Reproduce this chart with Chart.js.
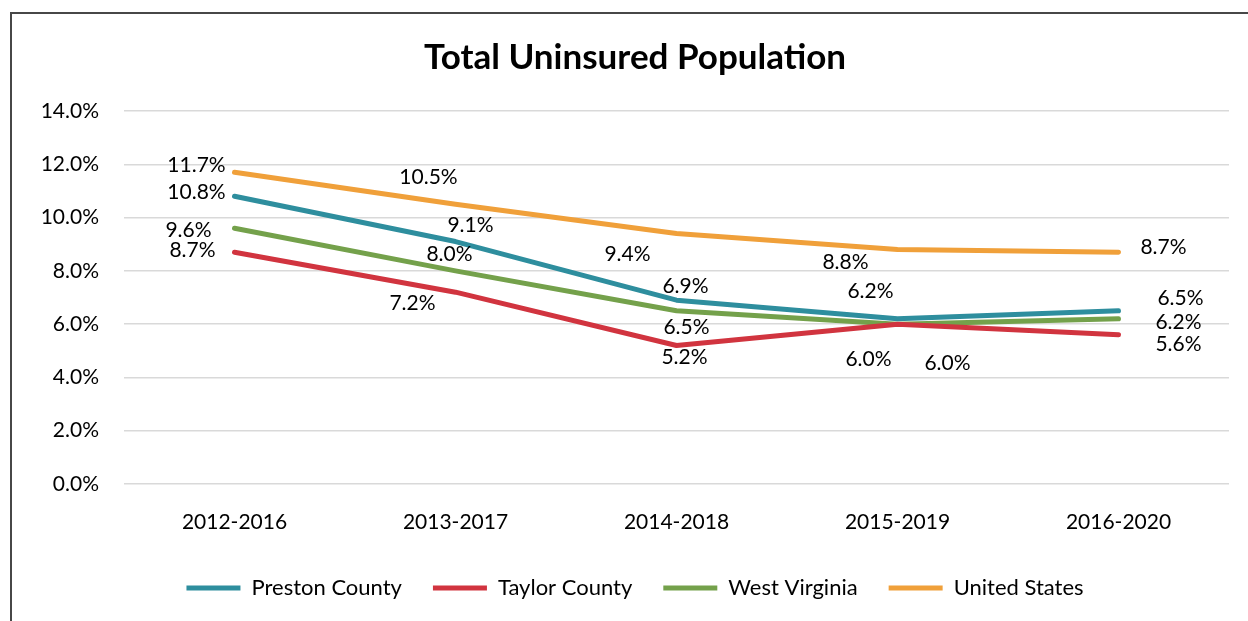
<!DOCTYPE html>
<html>
<head>
<meta charset="utf-8">
<script src="https://cdn.jsdelivr.net/npm/chart.js@4"></script>
<style>
  html, body { margin: 0; padding: 0; background: #fff; overflow: hidden; width: 1248px; height: 621px; }
  #frame { position: absolute; left: 10px; top: 12px; width: 1258px; height: 620px; border-left: 2px solid #474747; border-top: 2px solid #474747; }
  #myChart { display: block; }
</style>
</head>
<body>
<div id="frame"><canvas id="myChart" width="1258" height="595"></canvas></div>
<script>
const labels = ['2012-2016', '2013-2017', '2014-2018', '2015-2019', '2016-2020'];
const preston = [10.8, 9.1, 6.9, 6.2, 6.5];
const taylor = [8.7, 7.2, 5.2, 6.0, 5.6];
const westVirginia = [9.6, 8.0, 6.5, 6.0, 6.2];
const unitedStates = [11.7, 10.5, 9.4, 8.8, 8.7];

const FONT = 'Lato';

// where each value label sits relative to its point (px), per dataset
const labelOffsets = [
  [[-38, -4], [15, -16], [9, -14], [-27, -28], [62, -13]],
  [[-42, -2], [-43, 11], [8, 12], [-29, 35], [60, 9]],
  [[-46, 2], [-6, -17], [10, 16], [50, 39], [60, 3]],
  [[-38, -7], [-27, -27], [-49, 21], [-52, 13], [45, -5]]
];

const valueLabels = {
  id: 'valueLabels',
  afterDatasetsDraw(chart) {
    const ctx = chart.ctx;
    ctx.save();
    ctx.font = '21px ' + FONT;
    ctx.fillStyle = '#000';
    ctx.textAlign = 'center';
    ctx.textBaseline = 'middle';
    chart.data.datasets.forEach((ds, i) => {
      chart.getDatasetMeta(i).data.forEach((pt, j) => {
        const off = labelOffsets[i][j];
        ctx.fillText(ds.data[j].toFixed(1) + '%', pt.x + off[0], pt.y + off[1]);
      });
    });
    ctx.restore();
  }
};

function line(label, values, color) {
  return {
    label: label,
    data: values,
    borderColor: color,
    backgroundColor: color,
    borderWidth: 5,
    borderCapStyle: 'round',
    borderJoinStyle: 'round',
    pointRadius: 0,
    tension: 0
  };
}

const data = {
  labels: labels,
  datasets: [
    line('Preston County', preston, '#2E8E9E'),
    line('Taylor County', taylor, '#D1343F'),
    line('West Virginia', westVirginia, '#74A14B'),
    line('United States', unitedStates, '#F0A03A')
  ]
};

const config = {
  type: 'line',
  data: data,
  options: {
    responsive: false,
    animation: false,
    devicePixelRatio: 1,
    layout: { padding: { left: 29, right: 41, top: 0, bottom: 0 } },
    scales: {
      x: {
        offset: true,
        grid: { display: false, drawTicks: false },
        border: { display: false },
        ticks: { color: '#000', font: { family: FONT, size: 21 }, padding: 26 },
        afterFit(scale) { scale.height = 62; }
      },
      y: {
        min: 0,
        max: 14,
        grid: { color: '#D9D9D9', lineWidth: 1.5, drawTicks: false },
        border: { display: false },
        ticks: {
          stepSize: 2,
          color: '#000',
          padding: 25,
          font: { family: FONT, size: 21 },
          callback: v => v.toFixed(1) + '%'
        },
        afterFit(scale) { scale.width = 83; }
      }
    },
    plugins: {
      title: {
        display: true,
        text: 'Total Uninsured Population',
        color: '#000',
        font: { family: FONT, size: 35, weight: 'bold', lineHeight: 1.2 },
        padding: { top: 23, bottom: 32 }
      },
      legend: {
        position: 'bottom',
        labels: {
          usePointStyle: true,
          pointStyle: 'line',
          pointStyleWidth: 54,
          color: '#000',
          font: { family: FONT, size: 22 },
          padding: 31
        }
      },
      tooltip: { enabled: false }
    }
  },
  plugins: [valueLabels]
};

const myChart = new Chart(document.getElementById('myChart'), config);
</script>
</body>
</html>
